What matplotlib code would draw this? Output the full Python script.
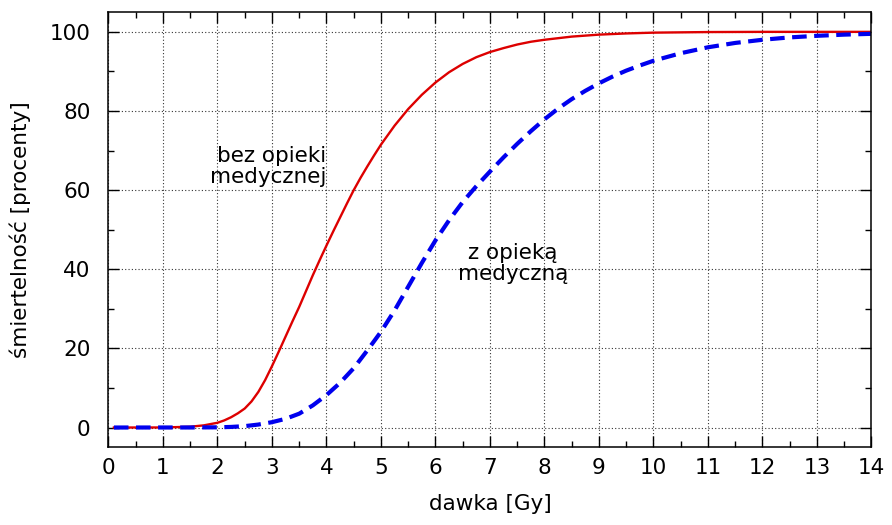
import matplotlib
matplotlib.use("Agg")
import matplotlib.pyplot as plt
from matplotlib.ticker import MultipleLocator

# mortality (%) vs dose (Gy), no medical care
dose_no_care = [0.1, 1.0, 1.5, 1.75, 2.0, 2.125, 2.25, 2.375, 2.5, 2.625, 2.75,
                2.875, 3.0, 3.125, 3.25, 3.375, 3.5, 3.625, 3.75, 3.875, 4.0,
                4.125, 4.25, 4.375, 4.5, 4.625, 4.75, 4.875, 5.0, 5.25, 5.5,
                5.75, 6.0, 6.25, 6.5, 6.75, 7.0, 7.25, 7.5, 7.75, 8.0, 8.5,
                9.0, 9.5, 10.0, 11.0, 12.0, 14.0]
no_care = [0.0, 0.01, 0.2, 0.55, 1.2, 1.8, 2.6, 3.6, 4.8, 6.6, 9.0,
           12.0, 15.5, 19.2, 23.0, 26.8, 30.5, 34.5, 38.5, 42.3, 46.0,
           49.6, 53.1, 56.6, 60.0, 63.1, 66.0, 68.8, 71.5, 76.3, 80.5,
           84.1, 87.2, 89.8, 91.9, 93.6, 94.9, 95.9, 96.8, 97.5, 98.0, 98.8,
           99.3, 99.6, 99.8, 99.95, 100.0, 100.0]

# mortality (%) vs dose (Gy), with medical care
dose_care = [0.1, 1.5, 2.0, 2.25, 2.5, 2.75, 3.0, 3.25, 3.5, 3.75, 4.0, 4.25,
             4.5, 4.75, 5.0, 5.25, 5.5, 5.75, 6.0, 6.25, 6.5, 6.75, 7.0, 7.25,
             7.5, 7.75, 8.0, 8.25, 8.5, 8.75, 9.0, 9.25, 9.5, 9.75, 10.0, 10.5,
             11.0, 11.5, 12.0, 12.5, 13.0, 13.5, 14.0]
with_care = [0.0, 0.01, 0.05, 0.15, 0.35, 0.75, 1.35, 2.2, 3.5, 5.6, 8.2, 11.3,
             15.0, 19.5, 24.2, 29.6, 35.6, 41.6, 47.3, 52.4, 57.0, 61.0, 64.7, 68.3,
             71.7, 74.9, 77.9, 80.6, 83.0, 85.1, 87.0, 88.7, 90.2, 91.5, 92.7, 94.6,
             96.1, 97.2, 98.0, 98.6, 99.0, 99.3, 99.5]

plt.rcParams['font.family'] = ['DejaVu Sans']
fs = 15.5

fig = plt.figure(figsize=(8.92, 5.25), dpi=100)
ax = fig.add_axes([0.1216, 0.148, 0.8554, 0.829])

ax.plot(dose_no_care, no_care, color="#dd0000", lw=1.7, solid_joinstyle="round")
ax.plot(dose_care, with_care, color="#0000ee", lw=3.0, dashes=(3.5, 1.8),
        dash_capstyle="butt")

ax.set_xlim(0, 14)
ax.set_ylim(-5, 105)
ax.xaxis.set_major_locator(MultipleLocator(1))
ax.xaxis.set_minor_locator(MultipleLocator(0.5))
ax.yaxis.set_major_locator(MultipleLocator(20))
ax.yaxis.set_minor_locator(MultipleLocator(10))

ax.grid(True, which="major", color="#333333", linestyle=(0, (1, 2)), lw=0.8)
ax.tick_params(which="both", direction="in", top=True, right=True, width=1.0)
ax.tick_params(which="major", length=8, labelsize=fs)
ax.tick_params(which="minor", length=4.5)
ax.tick_params(axis="x", which="major", pad=8)
ax.tick_params(axis="y", which="major", pad=13)
for s in ax.spines.values():
    s.set_linewidth(1.1)

ax.set_xlabel("dawka [Gy]", fontsize=fs)
ax.set_ylabel("śmiertelność [procenty]", fontsize=fs)
ax.xaxis.set_label_coords(0.5, -0.108)
ax.yaxis.set_label_coords(-0.101, 0.5)

ax.text(4.0, 66, "bez opieki\nmedycznej", fontsize=fs, ha="right", va="center",
        multialignment="right", linespacing=1.05)
ax.text(7.42, 41.5, "z opieką\nmedyczną", fontsize=fs, ha="center", va="center",
        multialignment="center", linespacing=1.05)

fig.savefig("out.png", dpi=100)
